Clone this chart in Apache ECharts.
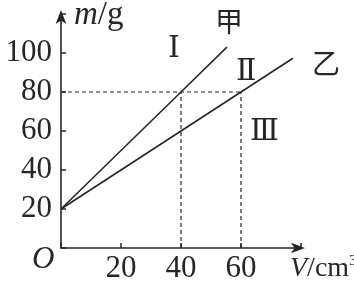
<!DOCTYPE html>
<html>
<head>
<meta charset="utf-8">
<script src="https://cdn.jsdelivr.net/npm/echarts@6/dist/echarts.min.js"></script>
<style>
html,body{margin:0;padding:0;background:#fff;}
#c{width:354px;height:286px;}
</style>
</head>
<body>
<div id="c"></div>
<script>
// Data
const lineI = [[0, 20], [40, 80], [55.3, 103]];     // 甲, line Ⅰ
const lineII = [[0, 20], [60, 80], [77.3, 97.3]];   // 乙, line Ⅱ
const guideH = [[0, 80], [60, 80]];
const guide40 = [[40, 0], [40, 80]];
const guide60 = [[60, 0], [60, 80]];
const xTickLabels = [20, 40, 60];
const yTickLabels = [20, 40, 60, 80, 100];

const SERIF = '"Liberation Serif", "DejaVu Serif", serif';
const INK = '#262626';

const chart = echarts.init(document.getElementById('c'));
const dashed = { color: INK, width: 1.2, type: [4, 3] };

chart.setOption({
  animation: false,
  backgroundColor: '#fff',
  grid: { left: 61, right: 53, top: 14, bottom: 38 },
  xAxis: {
    type: 'value', min: 0, max: 80, interval: 20,
    axisLine: { lineStyle: { color: INK, width: 1.6 }, symbol: ['none', 'arrow'], symbolSize: [8, 14], symbolOffset: [0, 4] },
    axisTick: { inside: true, length: 5, lineStyle: { color: INK, width: 1.5 } },
    axisLabel: {
      margin: 5, fontFamily: SERIF, fontSize: 31, color: INK,
      formatter: v => xTickLabels.includes(v) ? String(v) : ''
    },
    splitLine: { show: false }
  },
  yAxis: {
    type: 'value', min: 0, max: 120, interval: 20,
    axisLine: { lineStyle: { color: INK, width: 1.6 }, symbol: ['none', 'arrow'], symbolSize: [8, 14], symbolOffset: [0, 4] },
    axisTick: { inside: true, length: 5, lineStyle: { color: INK, width: 1.5 } },
    axisLabel: {
      margin: 9, fontFamily: SERIF, fontSize: 31, color: INK,
      formatter: v => yTickLabels.includes(v) ? String(v) : ''
    },
    splitLine: { show: false }
  },
  series: [
    { type: 'line', data: lineI, symbol: 'none', lineStyle: { color: INK, width: 1.6 } },
    { type: 'line', data: lineII, symbol: 'none', lineStyle: { color: INK, width: 1.6 } },
    { type: 'line', data: guideH, symbol: 'none', lineStyle: dashed },
    { type: 'line', data: guide40, symbol: 'none', lineStyle: dashed },
    { type: 'line', data: guide60, symbol: 'none', lineStyle: dashed }
  ],
  graphic: [
    { type: 'text', left: 74, top: -1, style: {
        text: '{i|m}{n|/g}', rich: {
          i: { fontFamily: SERIF, fontStyle: 'italic', fontSize: 33, fill: INK },
          n: { fontFamily: SERIF, fontSize: 33, fill: INK } } } },
    { type: 'text', left: 32, top: 244, style: { text: 'O', fontFamily: SERIF, fontStyle: 'italic', fontSize: 31, fill: INK } },
    { type: 'text', left: 290, top: 254, style: {
        text: '{i|V}{n|/cm}{s|3}', rich: {
          i: { fontFamily: SERIF, fontStyle: 'italic', fontSize: 28, fill: INK },
          n: { fontFamily: SERIF, fontSize: 28, fill: INK },
          s: { fontFamily: SERIF, fontSize: 15, fill: INK, verticalAlign: 'top', padding: [0, 0, 14, 0] } } } },
    { type: 'text', left: 168, top: 34, style: { text: 'Ⅰ', fontFamily: SERIF, fontSize: 30, fill: INK } },
    { type: 'text', left: 215, top: 7, style: { text: '甲', fontFamily: '"Noto Sans CJK SC"', fontSize: 28, fill: INK } },
    { type: 'text', left: 236, top: 57, style: { text: 'Ⅱ', fontFamily: SERIF, fontSize: 30, fill: INK } },
    { type: 'text', left: 312, top: 49, style: { text: '乙', fontFamily: '"Noto Sans CJK SC"', fontSize: 28, fill: INK } },
    { type: 'text', left: 250, top: 117, style: { text: 'Ⅲ', fontFamily: SERIF, fontSize: 30, fill: INK } }
  ]
});
</script>
</body>
</html>
